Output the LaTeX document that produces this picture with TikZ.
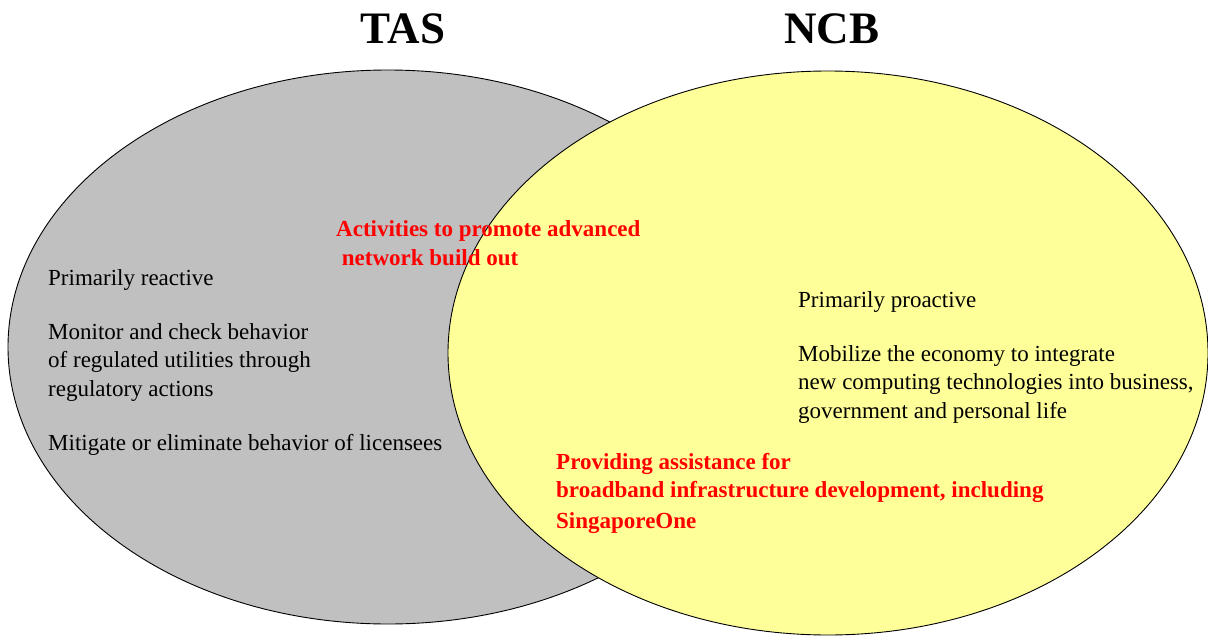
\documentclass[tikz,border=0pt]{standalone}
\usepackage{fontspec}
\setmainfont{Liberation Serif}
\usetikzlibrary{shapes.geometric}

\definecolor{tasgray}{RGB}{192,192,192}
\definecolor{ncbyellow}{RGB}{255,255,153}

\tikzset{
  setbox/.style={ellipse, draw=black, line width=0.9pt, inner sep=0pt},
  settitle/.style={font=\fontsize{45}{50}\selectfont\bfseries, anchor=base},
  body/.style={font=\fontsize{23}{28.5}\selectfont, align=left, inner sep=0pt, anchor=base west},
  shared/.style={body, font=\fontsize{23}{28.5}\selectfont\bfseries, text=red}
}

\begin{document}
\begin{tikzpicture}[x=1pt,y=-1pt]
    \useasboundingbox (0,0) rectangle (1208,637);
    % the two sets
    \node[setbox, fill=tasgray, minimum width=760pt, minimum height=554pt] (tas) at (388,347) {};
    \node[setbox, fill=ncbyellow, minimum width=760pt, minimum height=564pt] (ncb) at (828,353) {};
    \node[settitle] (tastitle) at (403,43) {TAS};
    \node[settitle] (ncbtitle) at (832,43) {NCB};
    % TAS only (base = last line)
    \node[body] (tasrole) at (48,285) {Primarily reactive};
    \node[body] (tasmonitor) at (48,396) {Monitor and check behavior\\of regulated utilities through\\regulatory actions};
    \node[body] (tasmitigate) at (48,450) {Mitigate or eliminate behavior of licensees};
    % NCB only
    \node[body] (ncbrole) at (798,307) {Primarily proactive};
    \node[body] (ncbmobilize) at (798,418) {Mobilize the economy to integrate\\new computing technologies into business,\\government and personal life};
    % overlap
    \node[shared] (sharedbuild) at (336,265) {Activities to promote advanced\\\ network build out};
    \node[shared] (sharedassist) at (556,528) {Providing assistance for\\broadband infrastructure development, including\\[2pt]SingaporeOne};
\end{tikzpicture}
\end{document}
